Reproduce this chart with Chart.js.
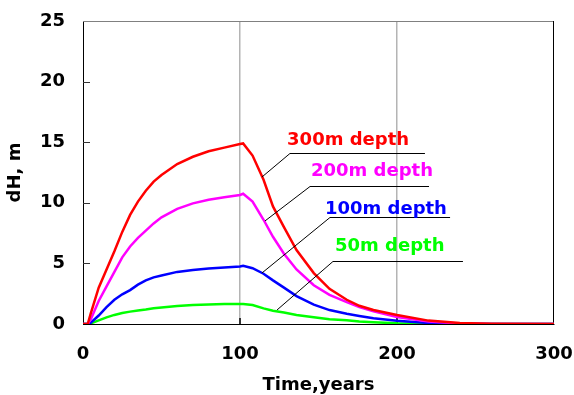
<!DOCTYPE html>
<html>
<head>
<meta charset="utf-8">
<script src="https://cdn.jsdelivr.net/npm/chart.js@4.4.0/dist/chart.umd.min.js"></script>
<style>
  html, body { margin: 0; padding: 0; background: #fff; }
  canvas { display: block; }
</style>
</head>
<body>
<canvas id="depthChart" width="574" height="395"></canvas>
<script>
// time axis, years
const years = [0, 3, 5, 10, 15, 20, 25, 30, 35, 40, 45, 50, 60, 70, 80, 90, 100, 102, 108, 115, 121, 128, 136, 147, 157, 168, 176, 185, 200, 220, 240, 260, 300];

// dH, m for each depth
const dh300 = [0, 0, 0.9, 3.0, 4.5, 6.0, 7.6, 9.0, 10.1, 11.0, 11.75, 12.3, 13.2, 13.8, 14.25, 14.55, 14.85, 14.9, 13.9, 11.9, 9.7, 8.0, 6.1, 4.2, 2.9, 2.0, 1.5, 1.15, 0.75, 0.28, 0.08, 0.02, 0];
const dh200 = [0, 0, 0.4, 1.9, 3.1, 4.3, 5.5, 6.4, 7.1, 7.7, 8.3, 8.8, 9.5, 9.95, 10.25, 10.45, 10.65, 10.75, 10.1, 8.6, 7.2, 5.8, 4.5, 3.2, 2.4, 1.8, 1.4, 1.05, 0.58, 0.2, 0.05, 0.01, 0];
const dh100 = [0, 0, 0.1, 0.7, 1.4, 2.0, 2.45, 2.8, 3.25, 3.6, 3.85, 4.0, 4.3, 4.45, 4.58, 4.67, 4.75, 4.8, 4.6, 4.15, 3.6, 3.0, 2.3, 1.6, 1.15, 0.85, 0.66, 0.47, 0.27, 0.08, 0.02, 0, 0];
const dh50 = [0, 0, 0.05, 0.3, 0.55, 0.75, 0.9, 1.02, 1.12, 1.2, 1.3, 1.37, 1.48, 1.56, 1.61, 1.64, 1.65, 1.65, 1.57, 1.29, 1.1, 0.95, 0.74, 0.55, 0.4, 0.3, 0.2, 0.14, 0.06, 0.02, 0, 0, 0];

const seriesNames = ['300m depth', '200m depth', '100m depth', '50m depth'];
const xTicks = [0, 100, 200, 300];
const yTicks = [0, 5, 10, 15, 20, 25];

const colors = ['#ff0000', '#ff00ff', '#0000ff', '#00ff00'];
const font = 'DejaVu Sans';

// callout placement in data units: text origin, underline, leader end on the curve
const callouts = [
    { text: [130, 14.77], line: [131.8, 217.8, 14.11], tip: [114.0, 12.13] },
    { text: [145.2, 12.21], line: [144.6, 220.4, 11.39], tip: [115.9, 8.5] },
    { text: [154.1, 9.08], line: [157.3, 233.8, 8.83], tip: [114.0, 4.21] },
    { text: [160.5, 6.02], line: [159.2, 242.0, 5.2], tip: [123.6, 1.16] },
];

function toPoints(values) {
    return years.map((t, i) => ({ x: t, y: values[i] }));
}

const frame = {
    id: 'frame',
    beforeDatasetsDraw(chart) {
        const { ctx, chartArea: a, scales: { x, y } } = chart;
        ctx.save();
        // top and right edges of the box
        ctx.lineWidth = 1;
        ctx.strokeStyle = '#808080';
        ctx.beginPath();
        ctx.moveTo(a.left, a.top + 0.5);
        ctx.lineTo(a.right, a.top + 0.5);
        ctx.stroke();
        ctx.strokeStyle = '#000';
        ctx.beginPath();
        ctx.moveTo(a.right - 0.5, a.top);
        ctx.lineTo(a.right - 0.5, a.bottom);
        ctx.stroke();
        // inward tick marks
        ctx.strokeStyle = '#333';
        yTicks.slice(1, -1).forEach(v => {
            const py = Math.round(y.getPixelForValue(v)) + 0.5;
            ctx.beginPath();
            ctx.moveTo(a.left, py);
            ctx.lineTo(a.left + 7, py);
            ctx.stroke();
        });
        ctx.lineWidth = 2;
        xTicks.slice(1, -1).forEach(v => {
            const px = Math.round(x.getPixelForValue(v));
            ctx.beginPath();
            ctx.moveTo(px, a.bottom);
            ctx.lineTo(px, a.bottom - 6);
            ctx.stroke();
        });
        ctx.restore();
    },
    afterDatasetsDraw(chart) {
        const { ctx, scales: { x, y } } = chart;
        ctx.save();
        ctx.font = 'bold 18px "' + font + '"';
        ctx.textBaseline = 'alphabetic';
        ctx.textAlign = 'left';
        callouts.forEach((c, i) => {
            const lx0 = x.getPixelForValue(c.line[0]);
            const lx1 = x.getPixelForValue(c.line[1]);
            const ly = Math.round(y.getPixelForValue(c.line[2])) + 0.5;
            ctx.strokeStyle = '#000';
            ctx.lineWidth = 1;
            ctx.beginPath();
            ctx.moveTo(x.getPixelForValue(c.tip[0]), y.getPixelForValue(c.tip[1]));
            ctx.lineTo(lx0, ly);
            ctx.lineTo(lx1, ly);
            ctx.stroke();
            ctx.fillStyle = colors[i];
            ctx.fillText(seriesNames[i], x.getPixelForValue(c.text[0]), y.getPixelForValue(c.text[1]));
        });
        ctx.restore();
    }
};

const datasets = [dh300, dh200, dh100, dh50].map((values, i) => ({
    label: seriesNames[i],
    data: toPoints(values),
    borderColor: colors[i],
    borderWidth: 2.5,
    pointRadius: 0,
    tension: 0,
    fill: false,
}));

new Chart(document.getElementById('depthChart'), {
    type: 'line',
    data: { datasets: datasets },
    options: {
        responsive: false,
        animation: false,
        devicePixelRatio: 1,
        layout: { padding: { top: 21, right: 20, left: 0, bottom: 0 } },
        plugins: { legend: { display: false }, tooltip: { enabled: false } },
        scales: {
            x: {
                type: 'linear',
                min: 0,
                max: 300,
                afterFit: scale => {
                    scale.height = 71;
                    scale.paddingLeft = 0;
                    scale.paddingRight = 0;
                },
                afterBuildTicks: scale => { scale.ticks = xTicks.map(v => ({ value: v })); },
                ticks: { color: '#000', padding: 20, font: { family: font, size: 18, weight: 'bold' } },
                grid: {
                    drawTicks: false,
                    lineWidth: 1.5,
                    color: ctx => (ctx.tick && ctx.tick.value > 0 && ctx.tick.value < 300) ? '#b4b4b4' : 'rgba(0,0,0,0)',
                },
                border: { color: '#000', width: 1 },
                title: {
                    display: true,
                    text: 'Time,years',
                    color: '#000',
                    font: { family: font, size: 18, weight: 'bold', lineHeight: 1 },
                    padding: { top: 0, bottom: 1 },
                },
            },
            y: {
                min: 0,
                max: 25,
                afterFit: scale => {
                    scale.width = 83;
                    scale.paddingTop = 0;
                    scale.paddingBottom = 0;
                },
                afterBuildTicks: scale => { scale.ticks = yTicks.map(v => ({ value: v })); },
                ticks: { color: '#000', padding: 18, font: { family: font, size: 18, weight: 'bold' } },
                grid: { drawOnChartArea: false, drawTicks: false },
                border: { color: '#000', width: 1 },
                title: {
                    display: true,
                    text: 'dH, m',
                    color: '#000',
                    font: { family: font, size: 18, weight: 'bold', lineHeight: 1 },
                    padding: { top: 6, bottom: 0 },
                },
            },
        },
    },
    plugins: [frame],
});
</script>
</body>
</html>
